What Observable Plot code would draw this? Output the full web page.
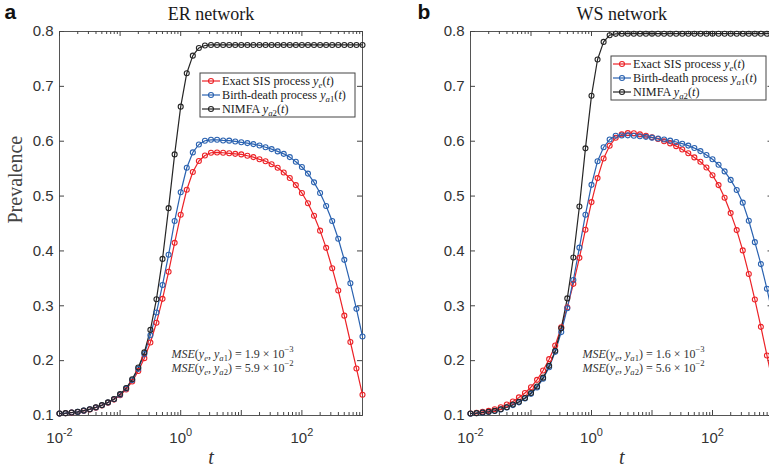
<!DOCTYPE html>
<html><head><meta charset="utf-8">
<script src="https://cdn.jsdelivr.net/npm/d3@7"></script>
<script src="https://cdn.jsdelivr.net/npm/@observablehq/plot@0.6"></script>
<style>
html,body{margin:0;padding:0;background:#fff;overflow:hidden}
#chart{position:relative;width:769px;height:468px;overflow:hidden;background:#fff}
#chart svg{position:absolute;top:0}
</style></head><body><div id="chart"></div>
<script>
const t = [0.01,0.01259,0.01585,0.01995,0.02512,0.03162,0.03981,0.05012,0.0631,0.07943,
  0.1,0.1259,0.1585,0.1995,0.2512,0.3162,0.3981,0.5012,0.631,0.7943,
  1,1.259,1.585,1.995,2.512,3.162,3.981,5.012,6.31,7.943,
  10,12.59,15.85,19.95,25.12,31.62,39.81,50.12,63.1,79.43,
  100,125.9,158.5,199.5,251.2,316.2,398.1,501.2,631,794.3,1000];

// ER network
const erExact = [0.1035,0.104,0.1052,0.1064,0.1085,0.111,0.1143,0.1183,0.1232,0.129,
  0.137,0.1475,0.162,0.181,0.2045,0.233,0.269,0.3126,0.362,0.4147,
  0.466,0.5115,0.544,0.564,0.574,0.579,0.5795,0.579,0.578,0.577,
  0.576,0.5735,0.571,0.567,0.5636,0.558,0.5516,0.543,0.533,0.52,
  0.5055,0.487,0.464,0.437,0.4056,0.3685,0.328,0.282,0.234,0.1857,0.1377];
const erBirth = [0.1035,0.1042,0.1054,0.1066,0.1088,0.1113,0.1147,0.1187,0.1236,0.1296,
  0.138,0.149,0.1645,0.185,0.212,0.2464,0.2877,0.338,0.393,0.4545,
  0.507,0.5516,0.5796,0.594,0.6008,0.6026,0.6026,0.6014,0.601,0.5996,
  0.598,0.5966,0.5947,0.5923,0.589,0.5856,0.5814,0.577,0.571,0.5626,
  0.553,0.541,0.525,0.5055,0.482,0.4545,0.4222,0.3837,0.341,0.2944,0.244];
const erNimfa = [0.1036,0.1043,0.1055,0.1067,0.109,0.1115,0.115,0.119,0.124,0.13,
  0.139,0.15,0.166,0.1875,0.215,0.256,0.312,0.3855,0.478,0.576,
  0.663,0.724,0.756,0.77,0.7745,0.7755,0.7755,0.7755,0.7755,0.7755,
  0.7755,0.7755,0.7755,0.7755,0.7755,0.7755,0.7755,0.7755,0.7755,0.7755,
  0.7755,0.7755,0.7755,0.7755,0.7755,0.7755,0.7755,0.7755,0.7755,0.7755,0.7755];

// WS network
const wsExact = [0.1036,0.105,0.1067,0.1085,0.1115,0.115,0.12,0.1255,0.133,0.141,
  0.1516,0.165,0.182,0.2027,0.2276,0.261,0.297,0.34,0.3874,0.4387,
  0.489,0.5328,0.5686,0.5917,0.6063,0.6124,0.6148,0.6145,0.6125,0.61,
  0.607,0.604,0.6,0.596,0.591,0.585,0.578,0.5705,0.5625,0.552,
  0.538,0.52,0.497,0.469,0.438,0.401,0.358,0.3114,0.2616,0.2094,0.157];
const wsBirth = [0.1033,0.104,0.1052,0.1065,0.1082,0.111,0.1145,0.119,0.124,0.131,
  0.1395,0.151,0.167,0.188,0.216,0.252,0.2956,0.347,0.406,0.466,
  0.5205,0.5636,0.589,0.603,0.61,0.6105,0.6107,0.61,0.609,0.608,
  0.6065,0.605,0.603,0.601,0.5985,0.5955,0.592,0.5875,0.582,0.575,
  0.567,0.557,0.545,0.5295,0.511,0.488,0.455,0.416,0.376,0.331,0.28];
const wsNimfa = [0.1036,0.1043,0.1055,0.1067,0.1085,0.1115,0.115,0.12,0.125,0.132,
  0.141,0.153,0.169,0.1905,0.218,0.259,0.3135,0.388,0.481,0.587,
  0.683,0.749,0.781,0.7933,0.7957,0.796,0.796,0.796,0.796,0.796,
  0.796,0.796,0.796,0.796,0.796,0.796,0.796,0.796,0.796,0.796,
  0.796,0.796,0.796,0.796,0.796,0.796,0.796,0.796,0.796,0.796,0.796];

const seriesNames = ["Exact SIS process *y*_{*e*}(*t*)", "Birth-death process *y*_{*a*1}(*t*)", "NIMFA *y*_{*a*2}(*t*)"];
const seriesColors = ["#ec2227", "#2a62b0", "#262626"];
const yTicks = [0.1,0.2,0.3,0.4,0.5,0.6,0.7,0.8];
const xMajorTicks = [0.01,0.1,1,10,100,1000];
const xLabelTicks = [0.01,1,100];
const xMinorTicks = [0.02,0.03,0.04,0.05,0.06,0.07,0.08,0.09,
  0.2,0.3,0.4,0.5,0.6,0.7,0.8,0.9, 2,3,4,5,6,7,8,9,
  20,30,40,50,60,70,80,90, 200,300,400,500,600,700,800,900];
const panelLetters = ["a","b"];
const panelTitles = ["ER network","WS network"];
const mseLines = [
  ["*MSE*(*y*_{*e*}, *y*_{*a*1}) = 1.9 × 10^{−3}", "*MSE*(*y*_{*e*}, *y*_{*a*2}) = 5.9 × 10^{−2}"],
  ["*MSE*(*y*_{*e*}, *y*_{*a*1}) = 1.6 × 10^{−3}", "*MSE*(*y*_{*e*}, *y*_{*a*2}) = 5.6 × 10^{−2}"]
];
const panelSeries = [[erExact, erBirth, erNimfa], [wsExact, wsBirth, wsNimfa]];

const SERIF = "'Liberation Serif','Times New Roman',serif";
const SANS = "'Liberation Sans',Arial,sans-serif";

function richText(el, markup, fs, o = {}) {
  const sel = d3.select(el); sel.text(null);
  let italic = false, level = 0, buf = "", bI = false, bL = 0;
  const runs = [];
  const flush = () => { if (buf) runs.push({s: buf, i: bI, l: bL}); buf = ""; };
  for (let k = 0; k < markup.length; k++) {
    const c = markup[k];
    if (c === "*") { flush(); italic = !italic; continue; }
    if ((c === "_" || c === "^") && markup[k + 1] === "{") { flush(); level = c === "_" ? -1 : 1; k++; continue; }
    if (c === "}" && level !== 0) { flush(); level = 0; continue; }
    if (!buf) { bI = italic; bL = level; }
    buf += c;
  }
  flush();
  let off = 0;
  runs.forEach(r => {
    const ts = sel.append("tspan").text(r.s).attr("font-style", r.i ? "italic" : "normal");
    const target = r.l === -1 ? fs * (o.sub ?? 0.25) : r.l === 1 ? -fs * (o.sup ?? 0.42) : 0;
    if (target !== off) { ts.attr("dy", target - off); off = target; }
    if (r.l !== 0) ts.attr("font-size", fs * (o.scale ?? 0.72));
  });
}

const chart = document.getElementById("chart");
const layouts = [
  {left: 0, width: 390, marginLeft: 59, marginRight: 28, letterDx: -55, legendTop: 73},
  {left: 390, width: 400, marginLeft: 80, marginRight: 17.5, letterDx: -53, legendTop: 56}
];
const TOP = 31, BOTTOM = 53, HEIGHT = 468;

layouts.forEach((L, p) => {
  const rows = [];
  panelSeries[p].forEach((vals, s) => vals.forEach((v, i) => rows.push({t: t[i], y: v, s: seriesNames[s]})));
  const fw = L.width - L.marginLeft - L.marginRight;   // frame width
  const fh = HEIGHT - TOP - BOTTOM;                    // frame height
  const tickSt = {stroke: "#444", strokeWidth: 1};
  const svg = Plot.plot({
    width: L.width, height: HEIGHT,
    marginLeft: L.marginLeft, marginRight: L.marginRight, marginTop: TOP, marginBottom: BOTTOM,
    x: {type: "log", domain: [0.01, 1000]},
    y: {domain: [0.1, 0.8]},
    color: {domain: seriesNames, range: seriesColors},
    style: {fontFamily: SANS, fontSize: "15px", color: "#333", background: "transparent", overflow: "visible"},
    marks: [
      Plot.frame({stroke: "#555", strokeWidth: 1}),
      Plot.axisY({ticks: yTicks, anchor: "left", tickSize: 0, tickPadding: 6, tickFormat: d3.format(".1f"), label: null, fontSize: 15, color: "#333"}),
      Plot.axisX({ticks: xLabelTicks, anchor: "bottom", tickSize: 0, tickPadding: 17, label: null, fontSize: 15, color: "#333",
        tickFormat: d => `10^{${Math.round(Math.log10(d)) < 0 ? "-" : ""}${Math.abs(Math.round(Math.log10(d)))}}`}),
      // inward box ticks on all four sides
      Plot.tickY(yTicks, {y: d => d, insetRight: fw - 5, ...tickSt}),
      Plot.tickY(yTicks, {y: d => d, insetLeft: fw - 5, ...tickSt}),
      Plot.tickX(xMajorTicks, {x: d => d, insetTop: fh - 5, ...tickSt}),
      Plot.tickX(xMajorTicks, {x: d => d, insetBottom: fh - 5, ...tickSt}),
      Plot.tickX(xMinorTicks, {x: d => d, insetTop: fh - 3, ...tickSt}),
      Plot.tickX(xMinorTicks, {x: d => d, insetBottom: fh - 3, ...tickSt}),
      Plot.line(rows, {x: "t", y: "y", z: "s", stroke: "s", strokeWidth: 1.2}),
      Plot.dot(rows, {x: "t", y: "y", stroke: "s", fill: "none", r: 2.5, strokeWidth: 1.1}),
      Plot.text([panelTitles[p]], {text: d => d, frameAnchor: "top", dy: -12, lineAnchor: "bottom", fontFamily: SERIF, fontSize: 18, fill: "#1a1a1a"}),
      Plot.text([panelLetters[p]], {text: d => d, frameAnchor: "top-left", dx: L.letterDx, dy: -13, lineAnchor: "bottom", textAnchor: "start", fontFamily: SANS, fontWeight: "bold", fontSize: 21, fill: "#111"}),
      Plot.text(["t"], {text: d => d, frameAnchor: "bottom", dy: 48, lineAnchor: "bottom", fontFamily: SERIF, fontStyle: "italic", fontSize: 20, fill: "#333"}),
      ...(p === 0 ? [Plot.text(["Prevalence"], {text: d => d, frameAnchor: "left", dx: -44, rotate: -90, fontFamily: SERIF, fontSize: 20, fill: "#444"})] : []),
      Plot.text([mseLines[p][0]], {text: d => d, frameAnchor: "bottom-left", dx: 112, dy: -58, lineAnchor: "bottom", textAnchor: "start", fontFamily: SERIF, fontSize: 12, fill: "#333"}),
      Plot.text([mseLines[p][1]], {text: d => d, frameAnchor: "bottom-left", dx: 112, dy: -44, lineAnchor: "bottom", textAnchor: "start", fontFamily: SERIF, fontSize: 12, fill: "#333"})
    ]
  });
  svg.style.left = L.left + "px";
  chart.appendChild(svg);
  // rich text (sub/superscripts, italics)
  d3.select(svg).selectAll("text").each(function () {
    const s = this.textContent;
    if (/[_^]\{|\*/.test(s)) {
      const fs = parseFloat(getComputedStyle(this).fontSize) || 12;
      const isTick = /^10\^\{/.test(s);
      richText(this, s, fs, isTick ? {sup: 0.5, scale: 0.73} : {});
    }
  });
  // legend
  const x0 = L.marginLeft + 141, y0 = L.legendTop;
  const g = d3.select(svg).append("g").attr("text-anchor", "start");
  g.append("rect").attr("x", x0).attr("y", y0).attr("width", 155).attr("height", 44)
    .attr("fill", "white").attr("stroke", "#444").attr("stroke-width", 1);
  seriesNames.forEach((nm, i) => {
    const cy = y0 + 8 + i * 14;
    g.append("line").attr("x1", x0 + 2).attr("x2", x0 + 20).attr("y1", cy).attr("y2", cy)
      .attr("stroke", seriesColors[i]).attr("stroke-width", 1.2);
    g.append("circle").attr("cx", x0 + 11).attr("cy", cy).attr("r", 2.5)
      .attr("fill", "none").attr("stroke", seriesColors[i]).attr("stroke-width", 1.1);
    const tx = g.append("text").attr("x", x0 + 22).attr("y", cy + 4).attr("text-anchor", "start")
      .attr("font-family", SERIF).attr("font-size", 12.2).attr("fill", "#222");
    richText(tx.node(), nm, 12.2);
  });
});
</script></body></html>
